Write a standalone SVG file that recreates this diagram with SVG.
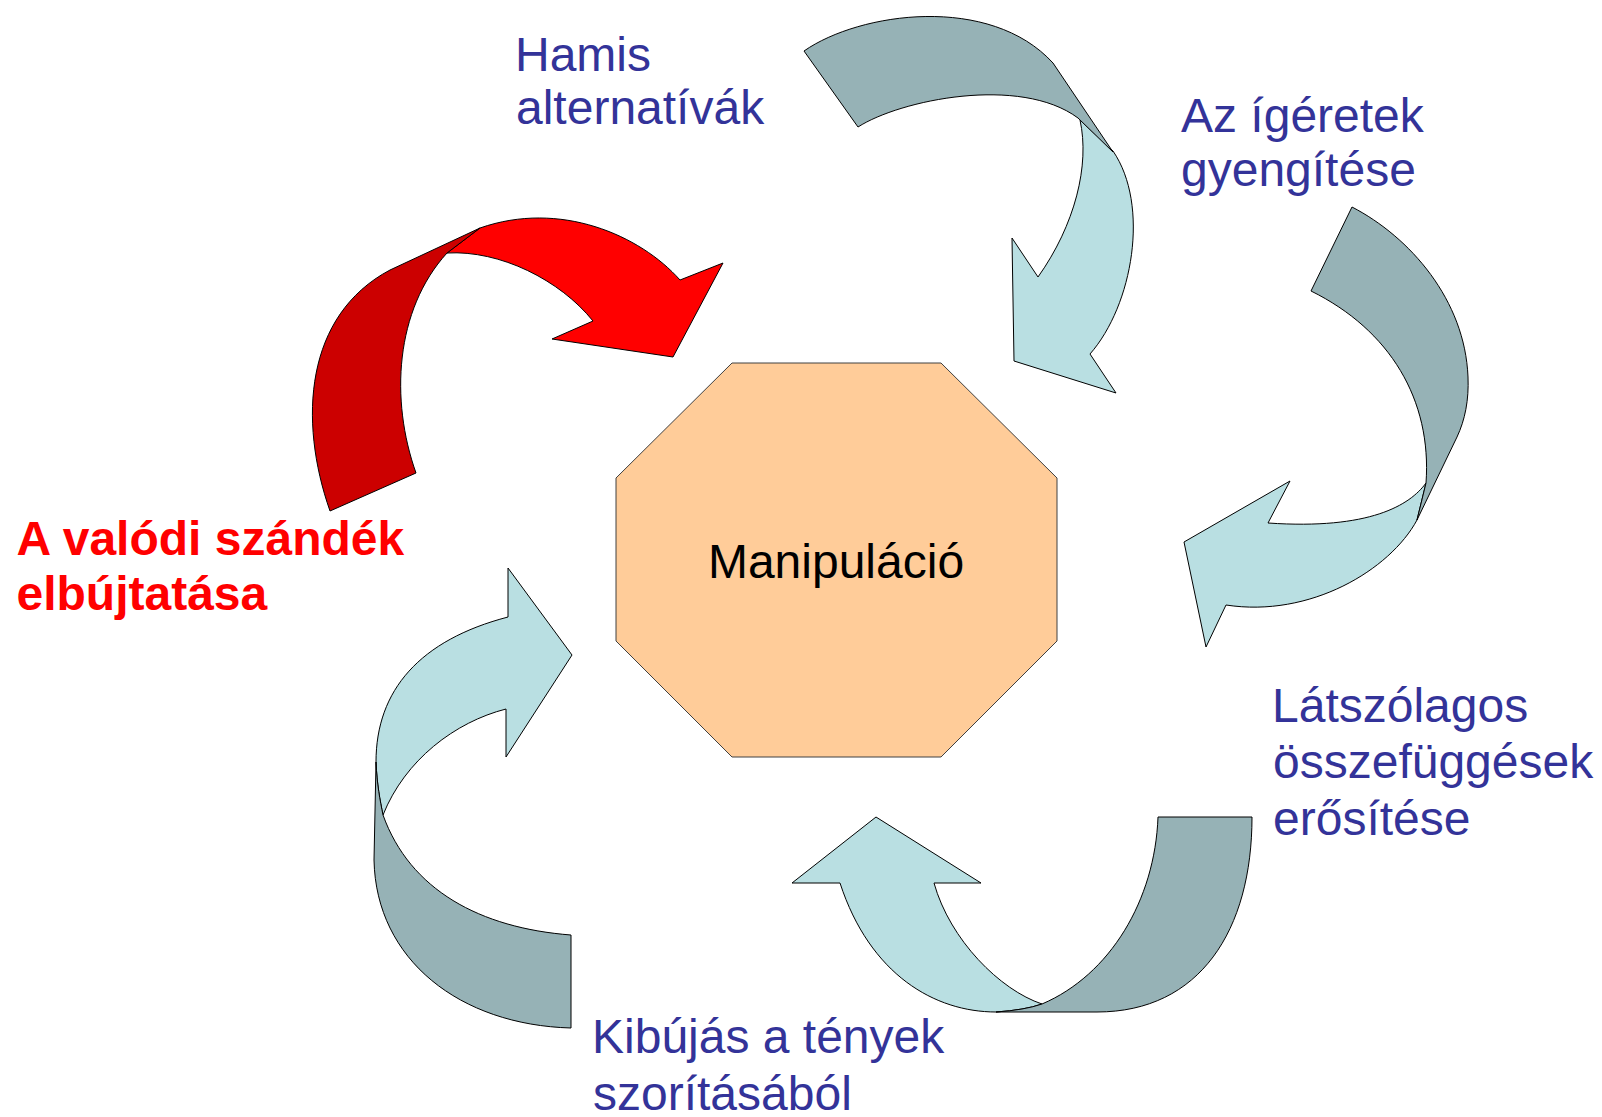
<svg xmlns="http://www.w3.org/2000/svg" width="1602" height="1117" viewBox="0 0 1602 1117">
<style>
.lbl{font-family:"Liberation Sans",Arial,sans-serif;fill:#333399;font-size:48px}
.red{font-family:"Liberation Sans",Arial,sans-serif;fill:#FF0000;font-weight:bold;font-size:48px}
.dark{fill:#96B2B6;stroke:#000;stroke-width:1;stroke-linejoin:round}
.light{fill:#B9DFE2;stroke:#000;stroke-width:1;stroke-linejoin:round}
</style>
<rect width="1602" height="1117" fill="#fff"/>
<g id="connectors">
  <g id="arrow-top">
    <path class="light" d="M1080,120 C1090,165 1075,225 1038,277 L1012,238 L1014,361 L1116,393 L1090,354 C1133,305 1150,205 1113,151 Z"/>
    <path class="dark" d="M804,51 C860,12 990,-6 1053,63 L1113,152 L1078,118 C1020,75 900,100 858,127 Z"/>
  </g>
  <g id="arrow-right">
    <path class="light" d="M1426,483 C1410,505 1370,530 1268,523 L1290,481 L1184,542 L1206,647 L1226,605 C1310,618 1390,570 1417,520 Z"/>
    <path class="dark" d="M1352,207 C1410,237 1465,300 1468,377 C1469,400 1465,420 1457,437 L1417,520 L1426,483 C1432,400 1390,330 1311,291 Z"/>
  </g>
  <g id="arrow-bottom">
    <path class="light" d="M840,883 C870,975 935,1012 996,1012 Q1025,1010 1042,1004 C1000,990 950,940 934,883 L981,883 L876,817 L792,883 Z"/>
    <path class="dark" d="M1158,817 L1252,817 C1252,930 1200,1012 1097,1012 L996,1012 Q1025,1010 1042,1004 C1110,975 1155,900 1158,817 Z"/>
  </g>
  <g id="arrow-left">
    <path class="light" d="M376,762 C376,690 420,640 508,617 L508,568 L572,655 L506,757 L506,709 C455,722 405,760 383,815 C380,800 377,785 376,762 Z"/>
    <path class="dark" d="M376,762 L374,860 C376,960 460,1025 571,1028 L571,935 C480,928 410,890 383,815 C380,800 377,785 376,762 Z"/>
  </g>
  <g id="arrow-red">
    <path d="M447,253 C500,250 560,280 593,321 L552,339 L673,357 L723,263 L680,280 C640,235 560,200 480,228 Z" fill="#FF0000" stroke="#000" stroke-width="1" stroke-linejoin="round"/>
    <path d="M330,511 C298,420 305,315 390,270 L480,228 L447,253 C395,310 390,400 416,473 Z" fill="#CC0000" stroke="#000" stroke-width="1" stroke-linejoin="round"/>
  </g>
</g>
<g id="node-manipulacio">
  <polygon points="732,363 941,363 1057,478 1057,641 941,757 732,757 616,641 616,478" fill="#FFCC99" stroke="#404040" stroke-width="1"/>
  <text x="836" y="578" text-anchor="middle" font-family="Liberation Sans, Arial, sans-serif" font-size="48" fill="#000">Manipuláció</text>
</g>
<g id="node-hamis">
  <text class="lbl" x="515" y="71">Hamis</text>
  <text class="lbl" x="516" y="124">alternatívák</text>
</g>
<g id="node-igeretek">
  <text class="lbl" x="1181" y="132">Az ígéretek</text>
  <text class="lbl" x="1181" y="186">gyengítése</text>
</g>
<g id="node-latszolagos">
  <text class="lbl" x="1272" y="722">Látszólagos</text>
  <text class="lbl" x="1273" y="778">összefüggések</text>
  <text class="lbl" x="1273" y="835">erősítése</text>
</g>
<g id="node-kibujas">
  <text class="lbl" x="592" y="1053">Kibújás a tények</text>
  <text class="lbl" x="593" y="1110">szorításából</text>
</g>
<g id="node-valodi">
  <text class="red" x="16.5" y="555">A valódi szándék</text>
  <text class="red" x="16.5" y="610">elbújtatása</text>
</g>
</svg>
